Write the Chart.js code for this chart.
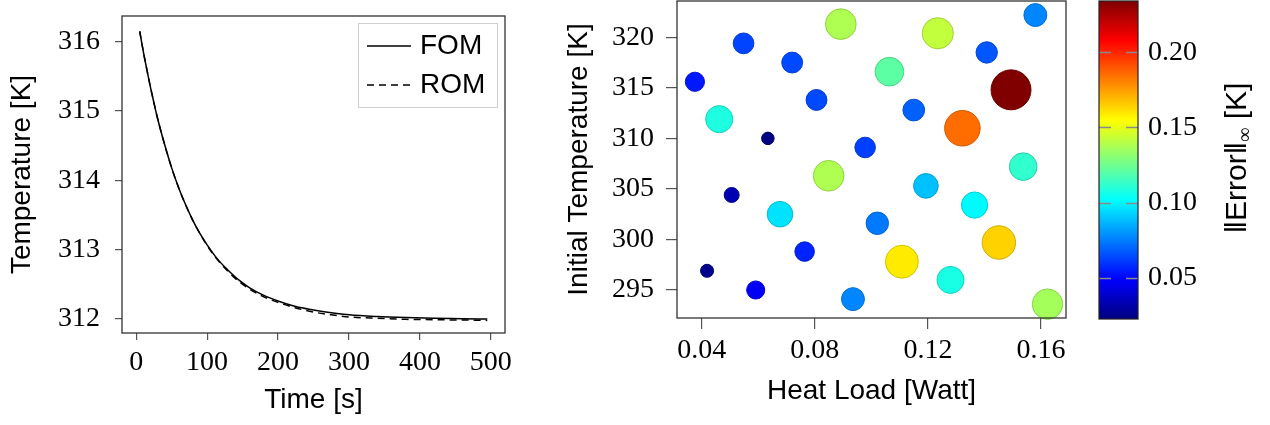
<!DOCTYPE html>
<html>
<head>
<meta charset="utf-8">
<script src="https://cdn.jsdelivr.net/npm/chart.js@4.4.1/dist/chart.umd.min.js"></script>
<style>
  html, body { margin: 0; padding: 0; background: #fff; }
  #wrap { position: relative; width: 1270px; height: 425px; overflow: hidden; }
  canvas { position: absolute; top: 0; }
</style>
</head>
<body>
<div id="wrap">
  <canvas id="decay" width="530" height="425" style="left:0px"></canvas>
  <canvas id="sweep" width="520" height="425" style="left:560px"></canvas>
  <canvas id="cbar" width="190" height="425" style="left:1080px"></canvas>
</div>
<script>
// cooling transient, full vs reduced model
const times   = [5, 10, 15, 20, 25, 30, 40, 50, 60, 70, 80, 90, 100, 115, 130, 145, 160, 180, 200, 225, 250, 275, 300, 340, 380, 420, 460, 495];
const fomTemp = [316.15, 315.86, 315.60, 315.35, 315.12, 314.90, 314.52, 314.18, 313.89, 313.64, 313.42, 313.23, 313.07, 312.86, 312.70, 312.56, 312.45, 312.34, 312.26, 312.18, 312.13, 312.09, 312.06, 312.035, 312.02, 312.01, 312.005, 312.00];
const romTemp = [316.15, 315.86, 315.60, 315.35, 315.12, 314.90, 314.52, 314.18, 313.89, 313.64, 313.42, 313.23, 313.06, 312.85, 312.68, 312.54, 312.43, 312.32, 312.24, 312.16, 312.10, 312.06, 312.03, 312.01, 311.995, 311.99, 311.985, 311.98];
const timeTicks = [0, 100, 200, 300, 400, 500];
const tempTicks = [312, 313, 314, 315, 316];

// parameter sweep: heat load / initial temperature -> max error
const heatLoad = [0.0376, 0.0548, 0.0720, 0.0892, 0.1235, 0.1580, 0.1408, 0.1064, 0.1494, 0.0806,
                  0.1150, 0.0462, 0.1322, 0.0634, 0.0978, 0.0849, 0.1537, 0.0506, 0.1193, 0.0677,
                  0.1365, 0.1021, 0.1451, 0.0764, 0.1108, 0.0419, 0.1280, 0.0591, 0.0935, 0.1623];
const initTemp = [315.6, 319.4, 317.5, 321.3, 320.4, 322.2, 318.5, 316.6, 314.8, 313.8,
                  312.8, 311.9, 311.0, 310.0, 309.1, 306.3, 307.2, 304.4, 305.3, 302.5,
                  303.4, 301.6, 299.7, 298.8, 297.8, 296.9, 296.0, 295.0, 294.1, 293.6];
const maxError = [0.054, 0.063, 0.064, 0.138, 0.142, 0.077, 0.067, 0.121, 0.234, 0.064,
                  0.069, 0.108, 0.185, 0.023, 0.062, 0.138, 0.112, 0.033, 0.089, 0.096,
                  0.101, 0.074, 0.164, 0.056, 0.159, 0.025, 0.107, 0.048, 0.077, 0.136];
const loadTicks = [0.04, 0.08, 0.12, 0.16];
const initTicks = [295, 300, 305, 310, 315, 320];
const errTicks  = [0.05, 0.10, 0.15, 0.20];
const errMin = 0.0225, errMax = 0.2341;

const SERIF = "'Liberation Serif', 'DejaVu Serif', serif";
const SANS  = "'Liberation Sans', Arial, sans-serif";
const INK = '#000';
const TICK = '#555';
const FRAME = '#333';

Chart.defaults.animation = false;
Chart.defaults.events = [];
Chart.defaults.plugins.legend.display = false;
Chart.defaults.plugins.tooltip.enabled = false;

function jet(v) {
  let t = (v - errMin) / (errMax - errMin);
  t = Math.min(1, Math.max(0, t));
  const c = x => Math.round(255 * Math.min(1, Math.max(0, 1.5 - Math.abs(x))));
  return [c(4 * t - 3), c(4 * t - 2), c(4 * t - 1)];
}
const rgb = (c, k = 1) => `rgb(${Math.round(c[0] * k)},${Math.round(c[1] * k)},${Math.round(c[2] * k)})`;

const frame = {
  id: 'frame',
  afterDatasetsDraw(chart) {
    const { ctx, chartArea: a } = chart;
    ctx.save();
    ctx.strokeStyle = FRAME;
    ctx.lineWidth = 1.3;
    ctx.strokeRect(a.left, a.top, a.right - a.left, a.bottom - a.top);
    ctx.restore();
  }
};

function fixedTicks(list) {
  return s => { s.ticks = list.map(v => ({ value: v })); };
}
// pin the axis box size and drop the label overhang padding
function fitTo(size) {
  return s => {
    if (s.isHorizontal()) s.height = size; else s.width = size;
    s.paddingTop = s.paddingBottom = s.paddingLeft = s.paddingRight = 0;
  };
}

// ---- left: temperature vs time ----
const decayLegend = {
  id: 'decayLegend',
  afterDraw(chart) {
    const { ctx, chartArea: a } = chart;
    const w = 139, h = 84;
    const x0 = a.right - 8 - w, y0 = a.top + 7;
    ctx.save();
    ctx.fillStyle = '#fff';
    ctx.fillRect(x0, y0, w, h);
    ctx.strokeStyle = '#cfcfcf';
    ctx.lineWidth = 1;
    ctx.strokeRect(x0 + 0.5, y0 + 0.5, w, h);
    ctx.font = `28px ${SANS}`;
    ctx.textBaseline = 'middle';
    ctx.fillStyle = INK;
    chart.data.datasets.forEach((ds, i) => {
      const y = y0 + 23 + i * 39;
      ctx.beginPath();
      ctx.setLineDash(ds.borderDash || []);
      ctx.strokeStyle = ds.borderColor;
      ctx.lineWidth = 1.5;
      ctx.moveTo(x0 + 9, y);
      ctx.lineTo(x0 + 53, y);
      ctx.stroke();
      ctx.setLineDash([]);
      ctx.fillText(ds.label, x0 + 62, y);
    });
    ctx.restore();
  }
};

new Chart(document.getElementById('decay'), {
  type: 'line',
  data: {
    datasets: [
      { label: 'FOM', data: times.map((t, i) => ({ x: t, y: fomTemp[i] })),
        borderColor: '#000', borderWidth: 1.5, pointRadius: 0, cubicInterpolationMode: 'monotone' },
      { label: 'ROM', data: times.map((t, i) => ({ x: t, y: romTemp[i] })),
        borderColor: '#000', borderWidth: 1.5, borderDash: [7, 5], pointRadius: 0, cubicInterpolationMode: 'monotone' }
    ]
  },
  options: {
    responsive: false,
    layout: { padding: { left: 0, top: 16, right: 25, bottom: 0 } },
    scales: {
      x: {
        type: 'linear', min: -20, max: 520,
        afterBuildTicks: fixedTicks(timeTicks),
        afterFit: fitTo(92),
        grid: { drawOnChartArea: false, tickLength: 7, color: TICK, lineWidth: 1.2 },
        border: { display: false },
        ticks: { font: { family: SERIF, size: 28 }, color: INK, padding: 6, maxRotation: 0, autoSkip: false },
        title: { display: true, text: 'Time [s]', font: { family: SANS, size: 28 }, color: INK, padding: { top: 0, bottom: 8 } }
      },
      y: {
        min: 311.798, max: 316.371,
        afterBuildTicks: fixedTicks(tempTicks),
        afterFit: fitTo(122),
        grid: { drawOnChartArea: false, tickLength: 7, color: TICK, lineWidth: 1.2 },
        border: { display: false },
        ticks: { font: { family: SERIF, size: 28 }, color: INK, padding: 15, autoSkip: false },
        title: { display: true, text: 'Temperature [K]', font: { family: SANS, size: 28 }, color: INK, padding: { top: 5, bottom: 0 } }
      }
    }
  },
  plugins: [frame, decayLegend]
});

// ---- middle: error over the parameter sweep ----
new Chart(document.getElementById('sweep'), {
  type: 'bubble',
  data: {
    datasets: [{
      data: heatLoad.map((x, i) => ({ x: x, y: initTemp[i], r: 41.3 * Math.sqrt(maxError[i]) })),
      backgroundColor: c => rgb(jet(maxError[c.dataIndex])),
      borderColor: c => rgb(jet(maxError[c.dataIndex]), 0.82),
      borderWidth: 1,
      clip: false
    }]
  },
  options: {
    responsive: false,
    layout: { autoPadding: false, padding: { left: 0, top: 1, right: 14, bottom: 0 } },
    scales: {
      x: {
        type: 'linear', min: 0.031265, max: 0.16884,
        afterBuildTicks: fixedTicks(loadTicks),
        afterFit: fitTo(107),
        grid: { drawOnChartArea: false, tickLength: 11, color: TICK, lineWidth: 1.2 },
        border: { display: false },
        ticks: { font: { family: SERIF, size: 28 }, color: INK, padding: 5, maxRotation: 0, autoSkip: false,
                 callback: v => v.toFixed(2) },
        title: { display: true, text: 'Heat Load [Watt]', font: { family: SANS, size: 28 }, color: INK, padding: { top: 0, bottom: 17 } }
      },
      y: {
        type: 'linear', min: 292.23, max: 323.59,
        afterBuildTicks: fixedTicks(initTicks),
        afterFit: fitTo(117),
        grid: { drawOnChartArea: false, tickLength: 11, color: TICK, lineWidth: 1.2 },
        border: { display: false },
        ticks: { font: { family: SERIF, size: 28 }, color: INK, padding: 12, autoSkip: false },
        title: { display: true, text: 'Initial Temperature [K]', font: { family: SANS, size: 28 }, color: INK, padding: { top: 2, bottom: 0 } }
      }
    }
  },
  plugins: [frame]
});

// ---- right: colour scale for the error ----
const colorbar = {
  id: 'colorbar',
  beforeDatasetsDraw(chart) {
    const { ctx, chartArea: a } = chart;
    const y = chart.scales.y;
    const g = ctx.createLinearGradient(0, a.bottom, 0, a.top);
    for (let k = 0; k <= 64; k++) {
      const v = errMin + (errMax - errMin) * k / 64;
      g.addColorStop((y.getPixelForValue(v) - a.bottom) / (a.top - a.bottom), rgb(jet(v)));
    }
    ctx.save();
    ctx.fillStyle = g;
    ctx.fillRect(a.left, a.top, a.right - a.left, a.bottom - a.top);
    ctx.restore();
  },
  afterDraw(chart) {
    const { ctx, chartArea: a } = chart;
    const y = chart.scales.y;
    ctx.save();
    ctx.strokeStyle = '#8a8a8a';
    ctx.lineWidth = 1.5;
    y.ticks.forEach(t => {
      const py = Math.round(y.getPixelForValue(t.value)) + 0.5;
      ctx.beginPath();
      ctx.moveTo(a.left, py); ctx.lineTo(a.left + 12, py);
      ctx.moveTo(a.right - 12, py); ctx.lineTo(a.right, py);
      ctx.stroke();
    });
    ctx.strokeStyle = '#222';
    ctx.lineWidth = 1.2;
    ctx.strokeRect(a.left, a.top, a.right - a.left, a.bottom - a.top);

    // rotated label with a subscript infinity
    const main = '\u2016Error\u2016', sub = '\u221e', tail = ' [K]';
    ctx.fillStyle = INK;
    ctx.textBaseline = 'alphabetic';
    ctx.font = `30px ${SANS}`;
    const w1 = ctx.measureText(main).width, w3 = ctx.measureText(tail).width;
    ctx.font = `20px ${SERIF}`;
    const w2 = ctx.measureText(sub).width;
    const total = w1 + w2 + w3;
    ctx.translate(166, (a.top + a.bottom) / 2 - 2);
    ctx.rotate(-Math.PI / 2);
    let x = -total / 2;
    ctx.font = `30px ${SANS}`;
    ctx.fillText(main, x, 0); x += w1;
    ctx.font = `20px ${SERIF}`;
    ctx.fillText(sub, x, 5); x += w2;
    ctx.font = `30px ${SANS}`;
    ctx.fillText(tail, x, 0);
    ctx.restore();
  }
};

new Chart(document.getElementById('cbar'), {
  type: 'scatter',
  data: { datasets: [] },
  options: {
    responsive: false,
    layout: { padding: { left: 19, top: 1, right: 0, bottom: 106 } },
    scales: {
      x: { display: false, min: 0, max: 1 },
      y: {
        position: 'right', min: errMin, max: errMax,
        afterBuildTicks: fixedTicks(errTicks),
        afterFit: fitTo(132),
        grid: { display: false, drawTicks: false },
        border: { display: false },
        ticks: { font: { family: SERIF, size: 28 }, color: INK, padding: 10, autoSkip: false,
                 callback: v => v.toFixed(2) }
      }
    }
  },
  plugins: [colorbar]
});
</script>
</body>
</html>
